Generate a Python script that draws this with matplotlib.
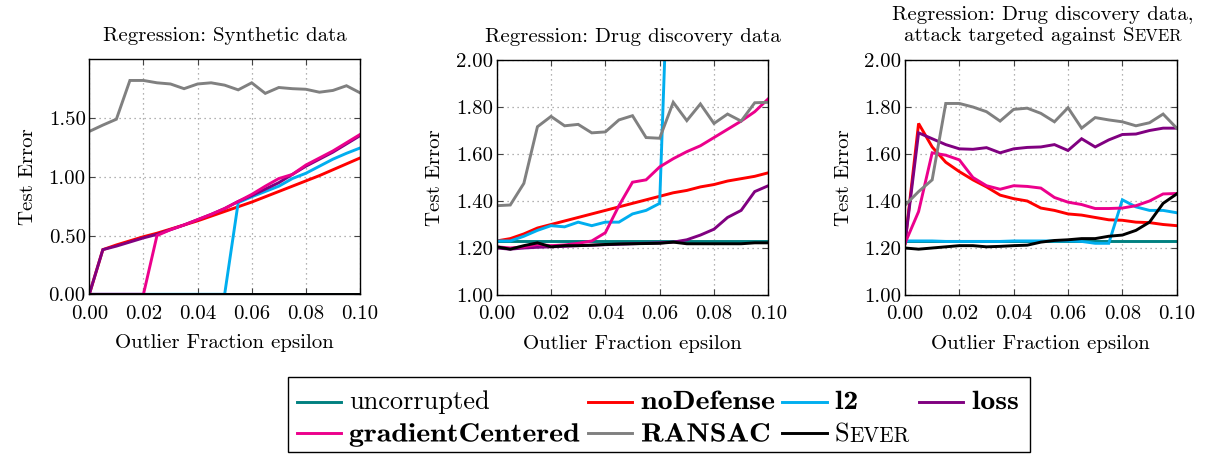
import matplotlib
matplotlib.use("Agg")
import matplotlib.pyplot as plt
from matplotlib.lines import Line2D
from matplotlib.patches import Rectangle
from matplotlib.ticker import FormatStrFormatter, FixedLocator
from matplotlib.patheffects import AbstractPathEffect
from matplotlib.transforms import Affine2D

# ---------------- data ----------------
eps = [0.000, 0.005, 0.010, 0.015, 0.020, 0.025, 0.030, 0.035, 0.040, 0.045, 0.050,
       0.055, 0.060, 0.065, 0.070, 0.075, 0.080, 0.085, 0.090, 0.095, 0.100]

methods = ["uncorrupted", "noDefense", "l2", "loss", "gradientCentered", "RANSAC", "Sever"]

# Panel 1: Regression, synthetic data
syn_uncorrupted = [0.0, 0.0, 0.0, 0.0, 0.0, 0.0, 0.0, 0.0, 0.0, 0.0, 0.0,
                   0.0, 0.0, 0.0, 0.0, 0.0, 0.0, 0.0, 0.0, 0.0, 0.0]
syn_noDefense = [0.00, 0.38, 0.42, 0.455, 0.49, 0.52, 0.555, 0.59, 0.625, 0.665, 0.705,
                 0.745, 0.785, 0.83, 0.875, 0.92, 0.965, 1.01, 1.06, 1.11, 1.16]
syn_l2 = [0.0, 0.0, 0.0, 0.0, 0.0, 0.0, 0.0, 0.0, 0.0, 0.0, 0.0,
          0.78, 0.83, 0.875, 0.92, 0.985, 1.03, 1.09, 1.15, 1.20, 1.245]
syn_loss = [0.00, 0.38, 0.41, 0.445, 0.48, 0.51, 0.55, 0.59, 0.635, 0.68, 0.73,
            0.79, 0.84, 0.895, 0.95, 1.02, 1.09, 1.15, 1.21, 1.28, 1.35]
syn_gradientCentered = [0.0, 0.0, 0.0, 0.0, 0.0, 0.50, 0.55, 0.59, 0.635, 0.68, 0.73,
                        0.79, 0.85, 0.92, 0.985, 1.02, 1.10, 1.16, 1.22, 1.29, 1.36]
syn_RANSAC = [1.386, 1.44, 1.49, 1.82, 1.82, 1.80, 1.79, 1.75, 1.79, 1.80, 1.78,
              1.74, 1.80, 1.71, 1.76, 1.75, 1.745, 1.72, 1.735, 1.775, 1.715]
syn_Sever = [0.0, 0.0, 0.0, 0.0, 0.0, 0.0, 0.0, 0.0, 0.0, 0.0, 0.0,
             0.0, 0.0, 0.0, 0.0, 0.0, 0.0, 0.0, 0.0, 0.0, 0.0]

# Panel 2: Regression, drug discovery data
drug_uncorrupted = [1.23, 1.23, 1.23, 1.23, 1.23, 1.23, 1.23, 1.23, 1.23, 1.23, 1.23,
                    1.23, 1.23, 1.23, 1.23, 1.23, 1.23, 1.23, 1.23, 1.23, 1.23]
drug_noDefense = [1.23, 1.24, 1.26, 1.285, 1.30, 1.315, 1.33, 1.345, 1.36, 1.375, 1.39,
                  1.405, 1.42, 1.435, 1.445, 1.46, 1.47, 1.485, 1.495, 1.505, 1.52]
drug_l2 = [1.23, 1.23, 1.25, 1.275, 1.295, 1.29, 1.31, 1.295, 1.31, 1.31, 1.345,
           1.36, 1.39, 3.05, 3.10, 3.20, 3.25, 3.30, 3.40, 3.45, 3.50]
drug_loss = [1.20, 1.195, 1.20, 1.203, 1.205, 1.207, 1.21, 1.212, 1.214, 1.216, 1.218,
             1.22, 1.222, 1.225, 1.235, 1.255, 1.28, 1.33, 1.36, 1.44, 1.465]
drug_gradientCentered = [1.205, 1.20, 1.205, 1.215, 1.21, 1.213, 1.22, 1.23, 1.265, 1.38, 1.48,
                         1.49, 1.545, 1.58, 1.61, 1.635, 1.67, 1.705, 1.74, 1.78, 1.835]
drug_RANSAC = [1.38, 1.383, 1.475, 1.716, 1.76, 1.72, 1.726, 1.69, 1.694, 1.745, 1.763,
               1.67, 1.667, 1.82, 1.742, 1.813, 1.73, 1.77, 1.74, 1.818, 1.82]
drug_Sever = [1.205, 1.195, 1.21, 1.222, 1.205, 1.21, 1.21, 1.212, 1.215, 1.217, 1.218,
              1.219, 1.22, 1.225, 1.218, 1.218, 1.218, 1.218, 1.218, 1.222, 1.222]

# Panel 3: Drug discovery data, attack targeted against Sever
tgt_uncorrupted = [1.23, 1.23, 1.23, 1.23, 1.23, 1.23, 1.23, 1.23, 1.23, 1.23, 1.23,
                   1.23, 1.23, 1.23, 1.23, 1.23, 1.23, 1.23, 1.23, 1.23, 1.23]
tgt_noDefense = [1.22, 1.73, 1.63, 1.565, 1.525, 1.49, 1.46, 1.425, 1.41, 1.40, 1.37,
                 1.36, 1.345, 1.34, 1.33, 1.32, 1.318, 1.31, 1.308, 1.30, 1.295]
tgt_l2 = [1.23, 1.23, 1.23, 1.228, 1.228, 1.228, 1.228, 1.228, 1.23, 1.23, 1.23,
          1.23, 1.23, 1.228, 1.22, 1.22, 1.405, 1.375, 1.36, 1.36, 1.35]
tgt_loss = [1.22, 1.69, 1.665, 1.64, 1.622, 1.62, 1.627, 1.605, 1.622, 1.628, 1.63,
            1.64, 1.615, 1.665, 1.63, 1.66, 1.683, 1.685, 1.70, 1.71, 1.71]
tgt_gradientCentered = [1.22, 1.355, 1.605, 1.595, 1.575, 1.50, 1.465, 1.45, 1.465, 1.462, 1.455,
                        1.415, 1.395, 1.385, 1.368, 1.368, 1.37, 1.38, 1.40, 1.43, 1.432]
tgt_RANSAC = [1.382, 1.44, 1.49, 1.815, 1.815, 1.80, 1.78, 1.74, 1.79, 1.795, 1.773,
              1.737, 1.797, 1.71, 1.755, 1.745, 1.737, 1.72, 1.733, 1.77, 1.71]
tgt_Sever = [1.20, 1.195, 1.20, 1.205, 1.21, 1.21, 1.205, 1.207, 1.21, 1.212, 1.225,
             1.232, 1.235, 1.24, 1.24, 1.25, 1.255, 1.275, 1.31, 1.39, 1.43]

x_ticks = [0.00, 0.02, 0.04, 0.06, 0.08, 0.10]
syn_y_ticks = [0.0, 0.5, 1.0, 1.5]
drug_y_ticks = [1.0, 1.2, 1.4, 1.6, 1.8, 2.0]

panels = [
    dict(series=[syn_uncorrupted, syn_noDefense, syn_l2, syn_loss, syn_gradientCentered, syn_RANSAC, syn_Sever],
         ylim=(0.0, 2.0), yticks=syn_y_ticks, title="Regression: Synthetic data"),
    dict(series=[drug_uncorrupted, drug_noDefense, drug_l2, drug_loss, drug_gradientCentered, drug_RANSAC, drug_Sever],
         ylim=(1.0, 2.0), yticks=drug_y_ticks, title="Regression: Drug discovery data"),
    dict(series=[tgt_uncorrupted, tgt_noDefense, tgt_l2, tgt_loss, tgt_gradientCentered, tgt_RANSAC, tgt_Sever],
         ylim=(1.0, 2.0), yticks=drug_y_ticks, title=None),
]

colors = ["#008080", "#ff0000", "#00aeef", "#800080", "#ec008c", "#808080", "#000000"]

# ---------------- figure ----------------
W, H = 1205, 458
plt.rcParams["font.family"] = "cmr10"
plt.rcParams["axes.formatter.use_mathtext"] = True
plt.rcParams["mathtext.fontset"] = "cm"

fig = plt.figure(figsize=(W / 100, H / 100), dpi=100)

def fx(px):
    return px / W

def fy(py):
    return 1 - py / H

axes_px = [(89.3, 360.0, 59.3, 294.3), (496.7, 768.3, 60.0, 295.0), (905.0, 1176.7, 60.0, 295.0)]
FS = 15

for (l, r, t, b), p in zip(axes_px, panels):
    ax = fig.add_axes([fx(l), fy(b), (r - l) / W, (b - t) / H])
    for vals, c in zip(p["series"], colors):
        ax.plot(eps, vals, color=c, lw=2.1, solid_joinstyle="miter")
    ax.set_xlim(0, 0.1)
    ax.set_ylim(*p["ylim"])
    ax.xaxis.set_major_locator(FixedLocator(x_ticks))
    ax.yaxis.set_major_locator(FixedLocator(p["yticks"]))
    ax.xaxis.set_major_formatter(FormatStrFormatter("%.2f"))
    ax.yaxis.set_major_formatter(FormatStrFormatter("%.2f"))
    ax.grid(True, color="#999999", linestyle=(0, (1, 3)), linewidth=0.9)
    ax.set_axisbelow(True)
    ax.tick_params(axis="both", direction="in", length=4, width=0.8, color="#444444",
                   top=True, right=True, labelsize=FS)
    ax.tick_params(axis="x", pad=7.5)
    ax.tick_params(axis="y", pad=2.5)
    for s in ax.spines.values():
        s.set_linewidth(1.0)
        s.set_color("black")
    ax.set_xlabel("Outlier Fraction epsilon", fontsize=FS, labelpad=8.5)
    ax.set_ylabel("Test Error", fontsize=FS, labelpad=8.5)
    if p["title"]:
        ax.set_title(p["title"], fontsize=FS, pad=13)

renderer = fig.canvas.get_renderer()


class HStretch(AbstractPathEffect):
    """Stretch glyphs horizontally about x0 (display px) to mimic bold-extended CM."""
    def __init__(self, x0, sx):
        super().__init__()
        self.x0 = x0
        self.sx = sx

    def draw_path(self, renderer, gc, tpath, affine, rgbFace=None):
        tr = affine + Affine2D().translate(-self.x0, 0).scale(self.sx, 1).translate(self.x0, 0)
        renderer.draw_path(gc, tpath, tr, rgbFace)


def width_of(t):
    return t.get_window_extent(renderer).width

def space_width(size, family):
    a = fig.text(0, 0, "aa", fontsize=size, family=family)
    b = fig.text(0, 0, "a a", fontsize=size, family=family)
    w = width_of(b) - width_of(a)
    a.remove(); b.remove()
    return w

def smallcaps_line(x_px, base_px, prefix, word, size, family="cmr10", ha="left"):
    """Draw prefix + word in small caps starting at x_px (or centered)."""
    parts = []
    if prefix:
        parts.append((prefix, size))
        parts.append((None, size))  # a space
    parts.append((word[0], size))
    parts.append((word[1:].upper(), size * 0.80))
    texts = []
    widths = []
    for s, sz in parts:
        if s is None:
            texts.append(None)
            widths.append(space_width(sz, family))
        else:
            tt = fig.text(0, fy(base_px), s, fontsize=sz, family=family, va="baseline", ha="left")
            texts.append(tt)
            widths.append(width_of(tt))
    total = sum(widths)
    x0 = x_px - total / 2 if ha == "center" else x_px
    for tt, w in zip(texts, widths):
        if tt is not None:
            tt.set_x(fx(x0))
        x0 += w

# Third panel title (two lines, "Sever" in small caps)
cx3 = (axes_px[2][0] + axes_px[2][1]) / 2 + 2
fig.text(fx(cx3), fy(19.5), "Regression: Drug discovery data,", fontsize=FS,
         ha="center", va="baseline")
smallcaps_line(cx3, 41.0, "attack targeted against", "Sever", FS, ha="center")

# ---------------- legend (drawn manually to mimic pgfplots) ----------------
fig.patches.append(Rectangle((fx(288), fy(452)), (1030 - 288) / W, (452 - 377) / H,
                             transform=fig.transFigure, fill=False, edgecolor="black",
                             linewidth=1.0))
LFS = 19
leg_rows = [(401.7, 409.0), (433.3, 441.5)]
leg_cols = [(297, 341, 349), (588, 632, 641), (782, 827, 835), (919, 963, 972)]
leg_layout = [(0, 0), (0, 1), (0, 2), (0, 3), (1, 0), (1, 1), (1, 2)]
leg_style = ["normal", "bold", "bold", "bold", "bold", "bold", "smallcaps"]
for name, c, (row, col), style in zip(methods, colors, leg_layout, leg_style):
    y, base = leg_rows[row]
    x1, x2, xt = leg_cols[col]
    fig.lines.append(Line2D([fx(x1), fx(x2)], [fy(y), fy(y)], transform=fig.transFigure,
                            color=c, lw=2.1))
    if style == "smallcaps":
        smallcaps_line(xt, base, "", name, LFS)
    elif style == "bold":
        tb = fig.text(fx(xt), fy(base), name, fontsize=LFS, family="cmb10",
                      va="baseline", ha="left")
        tb.set_path_effects([HStretch(xt, 1.135)])
    else:
        fig.text(fx(xt), fy(base), name, fontsize=LFS, family="cmr10", va="baseline", ha="left")

fig.savefig("out.png", dpi=100)
